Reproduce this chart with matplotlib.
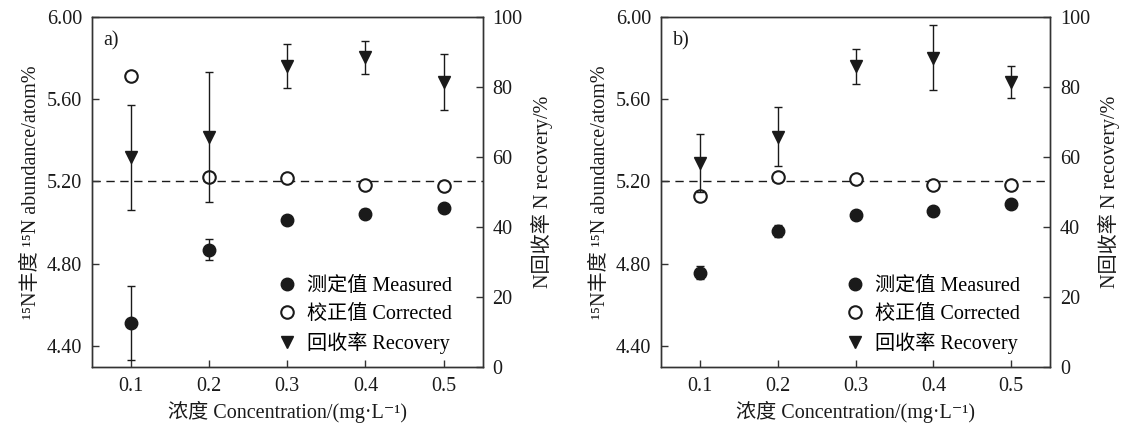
import matplotlib
matplotlib.use("Agg")
import matplotlib.pyplot as plt
from matplotlib.lines import Line2D

# serif latin + fallbacks for superscripts and CJK
plt.rcParams['font.family'] = ['Liberation Serif', 'DejaVu Serif', 'Noto Sans CJK SC']
plt.rcParams['font.size'] = 14.5

# concentration (mg/L)
conc = [0.1, 0.2, 0.3, 0.4, 0.5]

# panel a
measured_a = [4.514, 4.869, 5.011, 5.044, 5.071]
measured_err_a = [0.18, 0.053, 0.012, 0.02, 0.012]
corrected_a = [5.710, 5.219, 5.217, 5.181, 5.180]
recovery_a = [59.9, 65.6, 85.8, 88.4, 81.4]
recovery_err_a = [15.0, 18.5, 6.3, 4.7, 8.0]

# panel b
measured_b = [4.757, 4.960, 5.035, 5.055, 5.089]
measured_err_b = [0.03, 0.03, 0.012, 0.012, 0.012]
corrected_b = [5.128, 5.219, 5.214, 5.181, 5.181]
recovery_b = [58.2, 65.7, 85.8, 88.3, 81.4]
recovery_err_b = [8.2, 8.5, 5.0, 9.2, 4.5]

panel_labels = ['a)', 'b)']
reference_level = 5.20

yticks_left = [4.40, 4.80, 5.20, 5.60, 6.00]
yticks_right = [0, 20, 40, 60, 80, 100]

legend_labels = ['测定值 Measured', '校正值 Corrected', '回收率 Recovery']

ink = '#1a1a1a'

fig = plt.figure(figsize=(11.22, 4.26), dpi=100)
positions = [[0.0817, 0.139, 0.3485, 0.822], [0.589, 0.139, 0.347, 0.822]]

datasets = [
    (measured_a, measured_err_a, corrected_a, recovery_a, recovery_err_a),
    (measured_b, measured_err_b, corrected_b, recovery_b, recovery_err_b),
]

for pos, data, lab in zip(positions, datasets, panel_labels):
    meas, meas_err, corr, rec, rec_err = data
    ax = fig.add_axes(pos)
    ax2 = ax.twinx()

    ax.axhline(reference_level, color=ink, lw=1.0, ls=(0, (6, 4)), zorder=1)

    ax.errorbar(conc, meas, yerr=meas_err, fmt='o', color=ink, ms=9,
                ecolor=ink, elinewidth=1.0, capsize=3, capthick=1.0, zorder=3)
    ax.plot(conc, corr, 'o', mfc='white', mec=ink, mew=1.5, ms=9, zorder=4)
    ax2.errorbar(conc, rec, yerr=rec_err, fmt='v', color=ink, ms=9,
                 ecolor=ink, elinewidth=1.0, capsize=3, capthick=1.0, zorder=3)

    ax.set_xlim(0.05, 0.55)
    ax.set_ylim(4.30, 6.00)
    ax2.set_ylim(0, 100)
    ax.set_xticks(conc)
    ax.set_xticklabels(['%.1f' % c for c in conc])
    ax.set_yticks(yticks_left)
    ax.set_yticklabels(['%.2f' % v for v in yticks_left])
    ax2.set_yticks(yticks_right)

    for a in (ax, ax2):
        for sp in a.spines.values():
            sp.set_color('#333333')
            sp.set_linewidth(1.0)
        a.tick_params(direction='in', length=5, width=1.0, color='#333333',
                      labelcolor=ink, labelsize=14.5, pad=7)

    ax.set_xlabel('浓度 Concentration/(mg·L⁻¹)', fontsize=14.5, color=ink, labelpad=4)
    ax.set_ylabel('¹⁵N丰度 ¹⁵N abundance/atom%', fontsize=14.5, color=ink, labelpad=4)
    ax2.set_ylabel('N回收率 N recovery/%', fontsize=14.5, color=ink, labelpad=6)

    ax.text(0.03, 0.93, lab, transform=ax.transAxes, fontsize=14.5, color=ink,
            ha='left', va='center')

    handles = [
        Line2D([], [], marker='o', ls='none', color=ink, ms=9),
        Line2D([], [], marker='o', ls='none', mfc='white', mec=ink, mew=1.5, ms=9),
        Line2D([], [], marker='v', ls='none', color=ink, ms=9),
    ]
    ax2.legend(handles, legend_labels,
               loc='lower left', bbox_to_anchor=(0.452, 0.013), borderaxespad=0,
               frameon=False, fontsize=14.5, handlelength=1.0,
               handletextpad=0.5, labelspacing=0.42)

fig.savefig('out.png', dpi=100)
